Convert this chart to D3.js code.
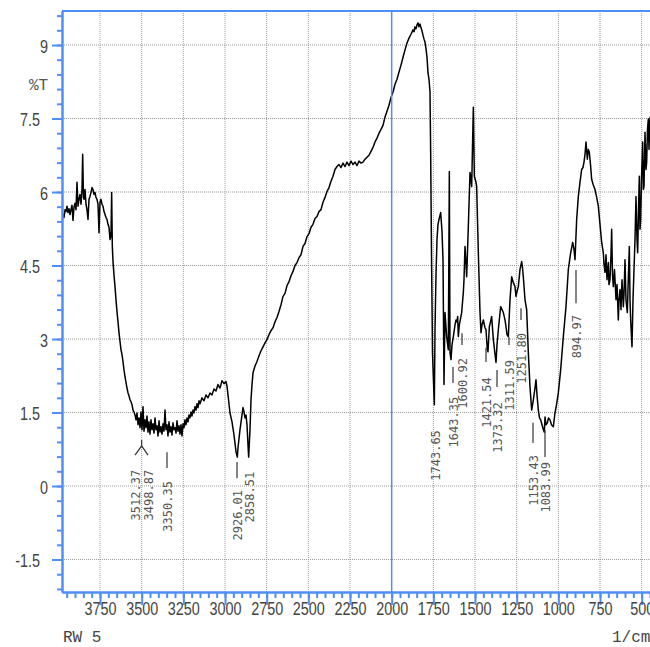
<!DOCTYPE html>
<html>
<head>
<meta charset="utf-8">
<script src="https://cdn.jsdelivr.net/npm/d3@7"></script>
<style>
  html, body { margin: 0; padding: 0; background: #fff; }
  svg { display: block; }
</style>
</head>
<body>
<svg id="drawing_region"></svg>
<script>
// spectrum (1/cm, %T)
const wavenumber = [
  3978,3972,3966,3960,3954,3948,3942,3936,3930,3924,
  3918,3912,3906,3900,3894,3888,3882,3876,3870,3864,
  3858,3854,3849,3846,3840,3834,3828,3822,3816,3810,
  3804,3798,3792,3786,3780,3774,3768,3762,3756,3750,
  3744,3738,3732,3726,3720,3714,3708,3702,3696,3690,
  3684,3680,3676,3672,3666,3660,3654,3648,3642,3636,
  3630,3624,3618,3612,3606,3600,3594,3588,3582,3576,
  3570,3564,3558,3552,3546,3540,3534,3528,3522,3516,
  3510,3504,3498,3492,3486,3480,3474,3468,3462,3456,
  3450,3444,3438,3432,3426,3420,3414,3408,3402,3396,
  3390,3384,3378,3372,3366,3360,3354,3348,3342,3336,
  3330,3324,3318,3312,3306,3300,3294,3288,3282,3276,
  3270,3264,3258,3252,3246,3240,3234,3228,3222,3216,
  3210,3204,3198,3192,3186,3180,3174,3168,3162,3156,
  3150,3138,3126,3114,3102,3090,3078,3066,3054,3042,
  3030,3018,3006,2994,2988,2982,2970,2958,2946,2934,
  2926,2922,2910,2898,2892,2886,2880,2874,2868,2862,
  2858,2850,2844,2838,2832,2820,2808,2796,2784,2772,
  2760,2748,2736,2724,2712,2700,2688,2676,2664,2652,
  2640,2628,2616,2604,2592,2580,2568,2556,2544,2532,
  2520,2508,2496,2484,2472,2460,2448,2436,2424,2412,
  2400,2388,2376,2364,2352,2340,2328,2316,2304,2292,
  2280,2268,2256,2244,2232,2220,2208,2196,2184,2172,
  2160,2148,2136,2124,2112,2100,2088,2076,2064,2052,
  2040,2028,2016,2004,1992,1980,1968,1956,1944,1932,
  1920,1908,1896,1884,1872,1866,1860,1854,1848,1842,
  1836,1830,1824,1818,1812,1806,1800,1794,1788,1782,
  1776,1770,1766,1761,1755,1744,1740,1734,1728,1722,
  1716,1706,1698,1692,1686,1680,1670,1660,1654,1650,
  1644,1638,1630,1620,1614,1608,1604,1600,1594,1580,
  1570,1566,1560,1554,1550,1540,1530,1524,1520,1510,
  1504,1494,1490,1480,1470,1464,1458,1450,1440,1434,
  1426,1422,1414,1407,1400,1390,1383,1374,1368,1360,
  1346,1338,1330,1320,1314,1308,1300,1290,1280,1270,
  1260,1254,1248,1240,1230,1220,1215,1210,1200,1190,
  1180,1170,1160,1150,1140,1134,1128,1120,1113,1106,
  1098,1090,1084,1080,1074,1066,1059,1050,1041,1030,
  1020,1011,1000,986,970,954,940,926,914,906,
  900,890,880,870,860,852,846,840,834,826,
  820,814,807,800,792,780,771,760,750,740,
  730,726,720,714,708,700,696,690,684,680,
  675,670,663,654,648,640,636,630,624,618,
  610,606,600,594,586,582,574,570,566,558,
  552,546,540,534,528,524,519,514,510,506,
  501,494,490,486,483,480,474,470,465,460,
  456,450
];
const transmittance = [
  5.44,5.54,5.48,5.64,5.60,5.71,5.58,5.66,5.54,5.64,
  5.73,5.42,5.69,5.77,5.64,6.20,5.71,5.85,5.95,5.75,
  6.05,6.77,5.89,5.85,6.05,5.75,5.64,5.44,5.85,5.91,
  5.99,6.09,6.05,5.95,5.99,5.89,5.85,5.75,5.17,5.79,
  5.85,5.75,5.71,5.60,5.54,5.48,5.44,5.34,5.28,5.03,
  5.11,5.99,4.89,4.58,4.31,4.07,3.80,3.56,3.35,3.13,
  2.95,2.78,2.68,2.54,2.37,2.23,2.11,2.00,1.90,1.84,
  1.76,1.72,1.66,1.55,1.51,1.45,1.35,1.49,1.25,1.39,
  1.19,1.51,1.15,1.62,1.12,1.35,1.19,1.43,1.10,1.31,
  1.06,1.35,1.15,1.27,1.08,1.39,1.15,1.23,1.02,1.33,
  1.10,1.21,1.06,1.27,1.12,1.55,1.15,1.25,1.02,1.31,
  1.10,1.21,1.04,1.29,1.15,1.19,1.08,1.33,1.12,1.23,
  1.06,1.25,1.02,1.27,1.19,1.35,1.25,1.39,1.31,1.45,
  1.39,1.51,1.43,1.55,1.49,1.62,1.55,1.68,1.60,1.74,
  1.68,1.80,1.74,1.86,1.80,1.90,1.86,1.98,1.94,2.07,
  2.00,2.15,2.09,2.13,2.04,1.86,1.49,1.31,1.04,0.70,
  0.59,0.78,1.15,1.45,1.60,1.51,1.39,1.45,1.25,0.84,
  0.59,1.15,1.76,2.07,2.31,2.45,2.54,2.66,2.76,2.84,
  2.92,2.99,3.09,3.17,3.23,3.35,3.44,3.56,3.70,3.87,
  3.93,4.09,4.17,4.29,4.38,4.50,4.56,4.66,4.72,4.89,
  4.95,5.09,5.15,5.28,5.34,5.46,5.50,5.60,5.64,5.79,
  5.89,6.01,6.09,6.22,6.32,6.46,6.52,6.56,6.50,6.59,
  6.52,6.61,6.54,6.63,6.56,6.61,6.54,6.63,6.59,6.61,
  6.67,6.71,6.75,6.83,6.91,7.02,7.10,7.20,7.28,7.36,
  7.53,7.65,7.77,7.93,8.04,8.20,8.30,8.45,8.59,8.75,
  8.90,9.04,9.14,9.22,9.31,9.27,9.37,9.33,9.41,9.45,
  9.37,9.43,9.35,9.29,9.20,9.12,9.06,8.92,8.75,8.43,
  8.30,8.04,6.81,4.76,2.72,1.66,3.19,4.31,5.03,5.34,
  5.44,5.58,5.20,4.62,2.07,3.54,3.05,2.78,6.42,2.72,
  2.58,2.88,3.05,3.29,3.39,3.35,3.46,3.05,3.29,3.54,
  3.95,4.21,4.89,4.52,4.27,5.30,6.40,6.26,6.11,7.73,
  6.32,6.20,6.11,4.76,3.54,3.13,3.29,3.39,3.23,3.19,
  2.78,2.74,3.25,3.35,3.46,2.99,2.78,2.52,2.88,3.19,
  3.66,3.60,3.54,3.39,3.25,3.09,3.05,3.80,4.27,4.15,
  4.07,3.87,3.97,4.07,4.42,4.58,4.46,4.27,3.80,3.60,
  2.72,2.02,1.55,1.76,2.00,2.17,1.86,1.55,1.39,1.35,
  1.25,1.15,1.10,1.41,1.25,1.29,1.39,1.35,1.25,1.21,
  1.49,1.66,1.90,2.37,3.05,3.66,4.42,4.76,4.97,4.83,
  4.62,5.44,5.91,6.20,6.46,6.50,6.61,6.77,7.02,6.67,
  6.87,6.81,6.56,6.26,6.16,6.05,5.91,5.71,5.34,4.97,
  4.76,4.52,4.36,4.72,4.21,4.56,4.11,4.21,4.72,5.24,
  4.31,4.07,4.42,3.80,4.11,3.39,3.80,4.01,3.60,4.21,
  3.66,3.91,4.62,3.80,3.54,4.01,4.89,3.80,3.39,2.84,
  3.80,4.42,5.03,5.91,5.03,4.76,5.64,6.32,5.24,5.44,
  6.26,7.02,6.05,6.11,6.67,7.22,6.46,6.61,7.28,7.49,
  6.87,7.53
];

// peak annotations: label, where the label sits (1/cm), label top (%T), marker from/to (%T)
const peakLabels     = ["3512.37","3498.87","3350.35","2926.01","2858.51","1743.65","1643.35","1600.92","1421.54","1373.32","1311.59","1251.80","1153.43","1083.99","894.97"];
const peakLabelWn    = [3540, 3462, 3348, 2928, 2856, 1740, 1632, 1578, 1434, 1368, 1296, 1224, 1152, 1080, 894];
const peakLabelTop   = [0.33, 0.33, 0.10, -0.08, 0.29, 1.14, 1.82, 2.61, 2.22, 1.71, 2.57, 3.12, 0.63, 0.49, 3.49];
const peakMarkTop    = [null, null, 0.69, 0.49, null, null, 2.43, 3.12, 2.82, 2.37, 3.04, 3.63, 1.29, 1.14, 4.41];
const peakMarkBottom = [null, null, 0.37, 0.16, null, null, 2.10, 2.88, 2.53, 2.02, 2.88, 3.39, 0.88, 0.59, 3.73];
// fork joining the 3512.37 / 3498.87 pair
const forkWn = [3540, 3500, 3462];
const forkT  = [0.63, 0.82, 0.63];
const forkStemTop = 0.94;

const xMajorTicks = [3750, 3500, 3250, 3000, 2750, 2500, 2250, 2000, 1750, 1500, 1250, 1000, 750, 500];
const yMajorTicks = [9, 7.5, 6, 4.5, 3, 1.5, 0, -1.5];
const yTickLabels = ["9", "7.5", "6", "4.5", "3", "1.5", "0", "-1.5"];

const width = 650, height = 647;
const plot = {left: 62, top: 11, bottom: 592, right: 650};
const blue = "#4f8ef6";
const axisFont = "'Liberation Sans', Arial, sans-serif";
const monoFont = "'Liberation Mono', 'DejaVu Sans Mono', monospace";
const squeeze = 0.8;   // tick labels in the picture are narrow

const svg = d3.select('#drawing_region')
    .attr('width', width)
    .attr('height', height);

const x = d3.scaleLinear().domain([3978, 400]).range([plot.left, plot.left + 3578 / 6]);
const y = d3.scaleLinear().domain([-2.163, 9.694]).range([plot.bottom, plot.top]);

// grid
const grid = svg.append('g');
grid.selectAll('line.gx').data(xMajorTicks.filter(d => d !== 2000)).join('line')
    .attr('x1', d => x(d)).attr('x2', d => x(d))
    .attr('y1', plot.top).attr('y2', plot.bottom)
    .attr('stroke', '#9a9a9a').attr('stroke-width', 1).attr('stroke-dasharray', '1,1');
grid.selectAll('line.gy').data(yMajorTicks).join('line')
    .attr('x1', plot.left).attr('x2', plot.right)
    .attr('y1', d => y(d)).attr('y2', d => y(d))
    .attr('stroke', '#9a9a9a').attr('stroke-width', 1).attr('stroke-dasharray', '1,1');

// spectrum
svg.append('clipPath').attr('id', 'clip')
  .append('rect').attr('x', plot.left).attr('y', plot.top)
  .attr('width', plot.right - plot.left).attr('height', plot.bottom - plot.top);

const data = wavenumber.map((w, i) => ({w: w, t: transmittance[i]}));
const line = d3.line().x(d => x(d.w)).y(d => y(d.t));
svg.append('path')
    .datum(data)
    .attr('clip-path', 'url(#clip)')
    .attr('d', line)
    .attr('fill', 'none')
    .attr('stroke', '#000')
    .attr('stroke-width', 1.5)
    .attr('stroke-linejoin', 'round');

// blue frame lines
svg.append('line').attr('x1', x(2000)).attr('x2', x(2000)).attr('y1', plot.top).attr('y2', plot.bottom)
    .attr('stroke', blue).attr('stroke-width', 1.5);
svg.append('line').attr('x1', plot.left).attr('x2', plot.right).attr('y1', plot.top).attr('y2', plot.top)
    .attr('stroke', blue).attr('stroke-width', 2);

// axes
function styleAxis(g) {
  g.selectAll('path, line').attr('stroke', blue).attr('stroke-width', 2);
  g.selectAll('text').attr('fill', '#444').style('font-family', axisFont).style('font-size', '18px');
}

const xMinor = d3.range(3950, 400, -50);
svg.append('g').attr('transform', `translate(0,${plot.bottom})`)
    .call(d3.axisBottom(x).tickValues(xMinor).tickSize(6).tickSizeOuter(0).tickFormat(''))
    .call(styleAxis);
const xAxisG = svg.append('g').attr('transform', `translate(0,${plot.bottom})`)
    .call(d3.axisBottom(x).tickValues(xMajorTicks).tickSize(13).tickSizeOuter(0).tickFormat(d => String(d)))
    .call(styleAxis);
xAxisG.selectAll('text')
    .attr('y', 10)
    .attr('transform', `scale(${squeeze},1)`);

const yMinor = d3.range(-7, 33).map(i => +(i * 0.3).toFixed(1));
svg.append('g').attr('transform', `translate(${plot.left},0)`)
    .call(d3.axisLeft(y).tickValues(yMinor).tickSize(5).tickSizeOuter(0).tickFormat(''))
    .call(styleAxis);
const yAxisG = svg.append('g').attr('transform', `translate(${plot.left},0)`)
    .call(d3.axisLeft(y).tickValues(yMajorTicks).tickSize(10).tickSizeOuter(0)
      .tickFormat((d, i) => yTickLabels[i]))
    .call(styleAxis);
yAxisG.selectAll('text')
    .attr('x', (d, i) => (yTickLabels[i].includes('.') ? -22 : -14) / squeeze)
    .attr('dy', '0.4em')
    .attr('transform', `scale(${squeeze},1)`);

// peak markers and labels
const peaks = peakLabels.map((s, i) => ({
  s: s, w: peakLabelWn[i], top: peakLabelTop[i], m1: peakMarkTop[i], m2: peakMarkBottom[i]
}));
const ann = svg.append('g');
ann.selectAll('line').data(peaks.filter(d => d.m1 !== null)).join('line')
    .attr('x1', d => x(d.w)).attr('x2', d => x(d.w))
    .attr('y1', d => y(d.m1)).attr('y2', d => y(d.m2))
    .attr('stroke', '#333').attr('stroke-width', 1.2);
ann.append('path')
    .attr('d', d3.line().x(d => x(d[0])).y(d => y(d[1]))(forkWn.map((w, i) => [w, forkT[i]])))
    .attr('fill', 'none').attr('stroke', '#333').attr('stroke-width', 1.2);
ann.append('line')
    .attr('x1', x(forkWn[1])).attr('x2', x(forkWn[1]))
    .attr('y1', y(forkStemTop)).attr('y2', y(forkT[1]))
    .attr('stroke', '#333').attr('stroke-width', 1.2);
ann.selectAll('text').data(peaks).join('text')
    .attr('transform', d => `translate(${x(d.w) + 4.5},${y(d.top)}) rotate(-90)`)
    .attr('text-anchor', 'end')
    .attr('fill', '#555')
    .style('font-family', "'DejaVu Sans Mono', monospace")
    .style('font-size', '12px')
    .text(d => d.s);

// titles
svg.append('text').attr('x', 29).attr('y', 90).text('%T')
    .attr('fill', '#555').style('font-family', monoFont).style('font-size', '16px');
svg.append('text').attr('x', 63).attr('y', 642).text('RW 5')
    .attr('fill', '#444').style('font-family', monoFont).style('font-size', '16px');
svg.append('text').attr('x', 612).attr('y', 642).text('1/cm')
    .attr('fill', '#444').style('font-family', monoFont).style('font-size', '16px');
</script>
</body>
</html>
